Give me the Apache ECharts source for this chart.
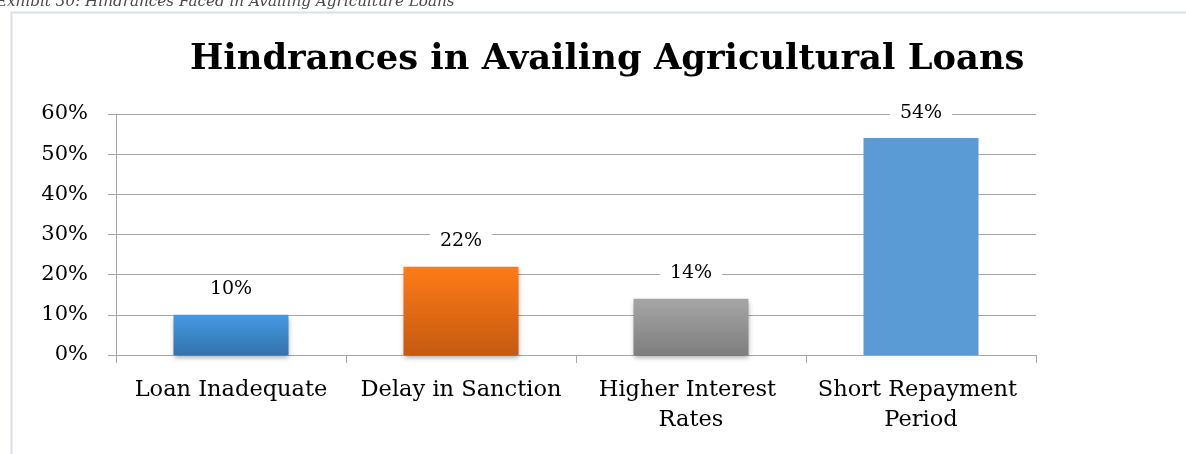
<!DOCTYPE html>
<html>
<head>
<meta charset="utf-8">
<script src="https://cdn.jsdelivr.net/npm/echarts@6/dist/echarts.min.js"></script>
<style>
  html, body { margin: 0; padding: 0; background: #ffffff; }
  #chart { width: 1186px; height: 454px; }
</style>
</head>
<body>
<div id="chart"></div>
<script>
// Hindrances faced in availing agricultural loans (share of respondents, %)
const categories = ['Loan Inadequate', 'Delay in Sanction', 'Higher Interest Rates', 'Short Repayment Period'];
const shares = [10, 22, 14, 54];
const yTicks = [0, 10, 20, 30, 40, 50, 60];

const FONT = '"DejaVu Serif", "Liberation Serif", serif';

function vgrad(top, bottom) {
  return new echarts.graphic.LinearGradient(0, 0, 0, 1, [
    { offset: 0, color: top },
    { offset: 1, color: bottom }
  ]);
}

// bar fills: first three shaded, last one flat
const barStyles = [
  { color: vgrad('#469ae2', '#3471ad'), shadowBlur: 5, shadowOffsetY: 3, shadowColor: 'rgba(0,0,0,0.35)' },
  { color: vgrad('#ff7b16', '#c55a11'), shadowBlur: 5, shadowOffsetY: 3, shadowColor: 'rgba(0,0,0,0.35)' },
  { color: vgrad('#a6a6a6', '#7e7e7e'), shadowBlur: 5, shadowOffsetY: 3, shadowColor: 'rgba(0,0,0,0.35)' },
  { color: '#5b9bd5' }
];

const chart = echarts.init(document.getElementById('chart'), null, { renderer: 'canvas' });

chart.setOption({
  animation: false,
  backgroundColor: '#ffffff',
  graphic: [
    {
      type: 'rect',
      shape: { x: 11.5, y: 12.5, width: 1300, height: 600 },
      style: { fill: 'none', stroke: '#d9dee8', lineWidth: 2 },
      silent: true, z: -1
    },
    {
      type: 'text',
      left: -4, top: -5,
      style: {
        text: 'Exhibit 30: Hindrances Faced in Availing Agriculture Loans',
        font: 'italic 15.2px ' + FONT,
        fill: '#4a4a4a'
      },
      silent: true
    }
  ],
  title: {
    text: 'Hindrances in Availing Agricultural Loans',
    left: 185,
    top: 37,
    padding: 5,
    textStyle: { fontFamily: FONT, fontWeight: 'bold', fontSize: 35.3, color: '#000000' }
  },
  grid: { left: 116, right: 150, top: 114, bottom: 99, containLabel: false },
  xAxis: {
    type: 'category',
    data: categories,
    boundaryGap: true,
    axisLine: { lineStyle: { color: '#a6a6a6', width: 1 } },
    axisTick: { show: true, length: 8, alignWithLabel: false, lineStyle: { color: '#a6a6a6' } },
    axisLabel: {
      margin: 20,
      interval: 0,
      color: '#000000',
      fontFamily: FONT,
      fontSize: 22.5,
      lineHeight: 30,
      width: 222,
      overflow: 'break'
    }
  },
  yAxis: {
    type: 'value',
    min: 0, max: 60, interval: 10,
    axisLine: { show: true, lineStyle: { color: '#a6a6a6', width: 1 } },
    axisTick: { show: true, length: 8, lineStyle: { color: '#a6a6a6' } },
    splitLine: { show: true, lineStyle: { color: '#a6a6a6', width: 1 } },
    axisLabel: {
      margin: 28,
      color: '#000000',
      fontFamily: FONT,
      fontSize: 21,
      formatter: v => (yTicks.indexOf(v) >= 0 ? v + '%' : '')
    }
  },
  series: [{
    type: 'bar',
    barWidth: '50%',
    data: shares.map((v, i) => ({ value: v, itemStyle: barStyles[i] })),
    label: {
      show: true,
      position: 'top',
      distance: 13,
      formatter: p => p.value + '%',
      color: '#000000',
      fontFamily: FONT,
      fontSize: 19,
      backgroundColor: '#ffffff',
      padding: [3, 10]
    }
  }]
});
</script>
</body>
</html>
